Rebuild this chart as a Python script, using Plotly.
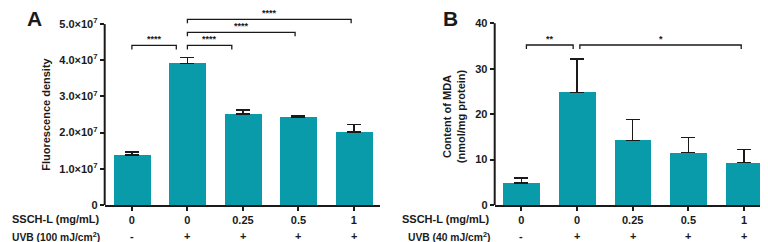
import plotly.graph_objects as go

# ---------------- data ----------------
ssch = ["0", "0", "0.25", "0.5", "1"]
uvb = ["-", "+", "+", "+", "+"]
pos = [0, 1, 2, 3, 4]

a_mean = [1.38e7, 3.91e7, 2.51e7, 2.43e7, 2.02e7]
a_err = [0.08e7, 0.17e7, 0.11e7, 0.03e7, 0.21e7]
a_ticks = [0, 1e7, 2e7, 3e7, 4e7, 5e7]
a_ticktext = ["0", "1.0×10<sup>7</sup>", "2.0×10<sup>7</sup>", "3.0×10<sup>7</sup>",
              "4.0×10<sup>7</sup>", "5.0×10<sup>7</sup>"]

b_mean = [4.8, 24.8, 14.2, 11.5, 9.3]
b_err = [1.1, 7.3, 4.6, 3.4, 2.9]
b_ticks = [0, 10, 20, 30, 40]
b_ticktext = ["0", "10", "20", "30", "40"]

# significance brackets: (x0, x1, y, label)
a_sig = [(0, 0.8, 4.41e7, "****"), (1, 1.8, 4.41e7, "****"),
         (1, 2.94, 4.77e7, "****"), (1, 3.95, 5.13e7, "****")]
b_sig = [(0.09, 0.93, 35.2, "**"), (1.05, 3.95, 35.2, "*")]

# ---------------- style ----------------
FONT = "Liberation Sans, Arial, sans-serif"
BAR = "#0A9BAA"
INK = "#1a1a1a"
W, H = 768, 242
y_bot = 202
dom_top = 7.2
ydom = [(H - y_bot) / H, 1 - dom_top / H]

fig = go.Figure()

fig.add_trace(go.Bar(x=pos, y=a_mean, width=0.66, marker=dict(color=BAR, line=dict(width=0)),
                     error_y=dict(type="data", array=a_err, arrayminus=[0] * 5, symmetric=False,
                                  color=INK, thickness=1.5, width=7),
                     xaxis="x", yaxis="y", showlegend=False))
fig.add_trace(go.Bar(x=pos, y=b_mean, width=0.66, marker=dict(color=BAR, line=dict(width=0)),
                     error_y=dict(type="data", array=b_err, arrayminus=[0] * 5, symmetric=False,
                                  color=INK, thickness=1.5, width=7),
                     xaxis="x2", yaxis="y2", showlegend=False))

xa = dict(tickmode="array", tickvals=pos, ticktext=ssch, showline=True, linecolor=INK,
          linewidth=2, ticks="outside", ticklen=4, tickwidth=1.5, tickcolor=INK,
          showgrid=False, zeroline=False, tickfont=dict(size=11, weight="bold", color=INK))
ya = dict(showline=False, ticks="outside", ticklen=4, tickwidth=1.8, tickcolor=INK,
          showgrid=False, zeroline=False, tickmode="array",
          tickfont=dict(size=11, weight="bold", color=INK), domain=ydom)

a_top = 5e7
b_top = 40
fig.update_layout(
    width=W, height=H, margin=dict(l=0, r=0, t=0, b=0),
    paper_bgcolor="white", plot_bgcolor="white",
    font=dict(family=FONT, size=11, color=INK, weight="bold"),
    xaxis=dict(xa, domain=[96.7 / W, 372 / W], range=[-0.49, 4.47], anchor="y"),
    yaxis=dict(ya, tickvals=a_ticks, ticktext=a_ticktext, range=[0, 5.25e7], anchor="x"),
    xaxis2=dict(xa, domain=[486.7 / W, 762.7 / W], range=[-0.48, 4.48], anchor="y2"),
    yaxis2=dict(ya, tickvals=b_ticks, ticktext=b_ticktext, range=[0, 41.8], anchor="x2"),
    bargap=0,
)

shapes = []
annots = []
# y axis lines (only up to top tick)
shapes.append(dict(type="line", xref="x domain", yref="y", x0=0, x1=0, y0=0, y1=a_top,
                   line=dict(color=INK, width=2)))
shapes.append(dict(type="line", xref="x2 domain", yref="y2", x0=0, x1=0, y0=0, y1=b_top,
                   line=dict(color=INK, width=2)))


def brackets(sig, xr, yr, drop):
    for x0, x1, y, lab in sig:
        shapes.append(dict(type="path", xref=xr, yref=yr,
                           path=f"M {x0},{y - drop} L {x0},{y} L {x1},{y} L {x1},{y - drop}",
                           line=dict(color=INK, width=1.3)))
        annots.append(dict(xref=xr, yref=yr, x=(x0 + x1) / 2, y=y, text=lab, showarrow=False,
                           yanchor="bottom", yshift=0, borderpad=0,
                           font=dict(size=9, weight="bold")))


brackets(a_sig, "x", "y", 0.11e7)
brackets(b_sig, "x2", "y2", 0.9)

# second row (UVB +/-)
for xr in ["x", "x2"]:
    for p, s in zip(pos, uvb):
        annots.append(dict(xref=xr, yref="paper", x=p, y=1 - 234.3 / H, text=s, showarrow=False,
                           yanchor="middle", font=dict(size=11, weight="bold")))

# row labels
for xpx, uv in [(93.5, "UVB (100 mJ/cm<sup>2</sup>)"), (483.5, "UVB (40 mJ/cm<sup>2</sup>)")]:
    annots.append(dict(xref="paper", yref="paper", x=xpx / W, y=1 - 216.7 / H, text="SSCH-L (mg/mL)",
                       showarrow=False, xanchor="right", yanchor="middle",
                       font=dict(size=11, weight="bold")))
    annots.append(dict(xref="paper", yref="paper", x=xpx / W, y=1 - 234.3 / H, text=uv,
                       showarrow=False, xanchor="right", yanchor="middle",
                       font=dict(size=10.3, weight="bold")))

# panel letters
annots.append(dict(xref="paper", yref="paper", x=26 / W, y=1 - 11 / H, text="A", showarrow=False,
                   xanchor="center", yanchor="middle", font=dict(size=21, weight="bold")))
annots.append(dict(xref="paper", yref="paper", x=442.5 / W, y=1 - 11 / H, text="B", showarrow=False,
                   xanchor="center", yanchor="middle", font=dict(size=21, weight="bold")))

# y titles
annots.append(dict(xref="paper", yref="paper", x=38.5 / W, y=1 - 109 / H, text="Fluorescence density",
                   showarrow=False, textangle=-90, xanchor="center", yanchor="middle",
                   font=dict(size=11, weight="bold")))
annots.append(dict(xref="paper", yref="paper", x=446 / W, y=1 - 111 / H,
                   text="Content of MDA<br>(nmol/mg protein)",
                   showarrow=False, textangle=-90, xanchor="center", yanchor="middle",
                   font=dict(size=11, weight="bold")))

fig.update_layout(shapes=shapes, annotations=annots)
fig.write_html("out.html")
